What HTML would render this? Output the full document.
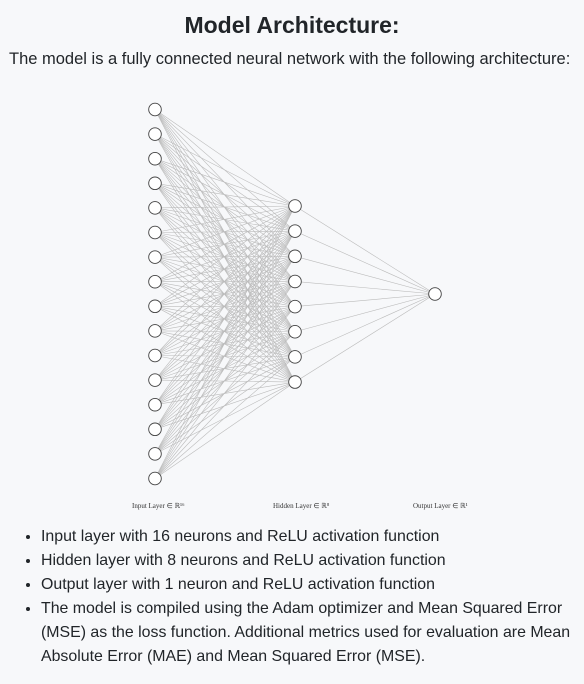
<!DOCTYPE html>
<html><head><meta charset="utf-8"><style>
body{margin:0;background:#f7f8fa;width:584px;height:684px;overflow:hidden;font-family:"Liberation Sans",sans-serif;color:#212529;position:relative}
h2{position:absolute;top:12px;left:0;width:584px;text-align:center;margin:0;font-size:23px;font-weight:bold;color:#212529}
.p{position:absolute;top:50px;left:9px;font-size:16.5px;white-space:nowrap}
ul{position:absolute;top:525px;left:0;margin:0;padding-left:41px;font-size:15.9px;line-height:24px;width:540px}
svg{position:absolute;left:0;top:0}
</style></head><body>
<h2>Model Architecture:</h2>
<div class="p">The model is a fully connected neural network with the following architecture:</div>
<svg id="s" width="584" height="520"></svg>
<ul>
<li>Input layer with 16 neurons and ReLU activation function</li>
<li>Hidden layer with 8 neurons and ReLU activation function</li>
<li>Output layer with 1 neuron and ReLU activation function</li>
<li>The model is compiled using the Adam optimizer and Mean Squared Error (MSE) as the loss function. Additional metrics used for evaluation are Mean Absolute Error (MAE) and Mean Squared Error (MSE).</li>
</ul>
<script>
var s=document.getElementById('s'),h='';
var inp=[],hid=[];
for(var i=0;i<16;i++)inp.push(109.5+i*24.6);
for(var j=0;j<8;j++)hid.push(206+j*25.15);
inp.forEach(function(a){hid.forEach(function(b){h+='<line x1="155" y1="'+a+'" x2="295" y2="'+b+'" stroke="#bbb" stroke-width="0.6"/>';});});
hid.forEach(function(b){h+='<line x1="295" y1="'+b+'" x2="435" y2="294" stroke="#bbb" stroke-width="0.6"/>';});
inp.forEach(function(a){h+='<circle cx="155" cy="'+a+'" r="6.3" fill="#fff" stroke="#444" stroke-width="0.9"/>';});
hid.forEach(function(b){h+='<circle cx="295" cy="'+b+'" r="6.3" fill="#fff" stroke="#444" stroke-width="0.9"/>';});
h+='<circle cx="435" cy="294" r="6.3" fill="#fff" stroke="#444" stroke-width="0.9"/>';
h+='<g font-family="Liberation Serif,serif" font-size="7" fill="#333"><text x="132" y="508">Input Layer ∈ ℝ¹⁶</text><text x="273" y="508">Hidden Layer ∈ ℝ⁸</text><text x="413" y="508">Output Layer ∈ ℝ¹</text></g>';
s.innerHTML=h;
</script>
</body></html>
